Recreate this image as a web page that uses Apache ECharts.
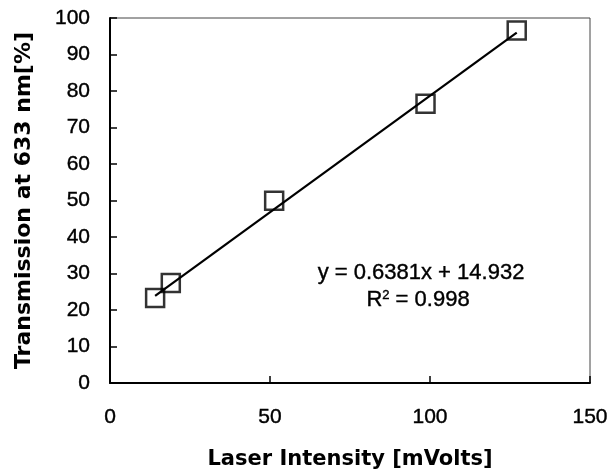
<!DOCTYPE html>
<html>
<head>
<meta charset="utf-8">
<script src="https://cdn.jsdelivr.net/npm/echarts@6/dist/echarts.min.js"></script>
<style>html,body{margin:0;padding:0;background:#fff;}#c{width:613px;height:476px;}</style>
</head>
<body>
<div id="c"></div>
<script>
// Data
var xValues = [14.1, 19.0, 51.3, 98.6, 127.1];
var yValues = [23.3, 27.4, 49.9, 76.5, 96.6];
// Trendline endpoints (as drawn in the picture)
var trendX = [14.1, 127.1];
var trendY = [23.9, 96.0];
var equationText = 'y = 0.6381x + 14.932';
var r2Text = 'R{sup|2} = 0.998';

var FONT = '"Liberation Sans", Arial, sans-serif';
var TITLE_FONT = '"DejaVu Sans", sans-serif';
var chart = echarts.init(document.getElementById('c'), null, {renderer: 'canvas'});
var pts = xValues.map(function (x, i) { return [x, yValues[i]]; });
var trend = trendX.map(function (x, i) { return [x, trendY[i]]; });

var labelStyle = {fontFamily: FONT, fontSize: 21, color: '#000', textBorderColor: '#000', textBorderWidth: 0.4};

chart.setOption({
  animation: false,
  backgroundColor: '#fff',
  grid: {left: 110, right: 23, top: 18, bottom: 93, show: true, borderColor: '#444', borderWidth: 1},
  xAxis: {
    type: 'value', min: 0, max: 150, interval: 50,
    name: 'Laser Intensity [mVolts]', nameLocation: 'middle', nameGap: 66,
    nameTextStyle: {fontFamily: TITLE_FONT, fontSize: 21, fontWeight: 'bold', color: '#000'},
    axisLine: {show: true, onZero: false, lineStyle: {color: '#000', width: 2}},
    axisTick: {show: true, inside: true, length: 7, lineStyle: {color: '#000', width: 1.5}},
    axisLabel: Object.assign({margin: 24}, labelStyle),
    splitLine: {show: false}
  },
  yAxis: {
    type: 'value', min: 0, max: 100, interval: 10,
    name: 'Transmission at 633 nm[%]', nameLocation: 'middle', nameGap: 75,
    nameTextStyle: {fontFamily: TITLE_FONT, fontSize: 22, fontWeight: 'bold', color: '#000'},
    axisLine: {show: true, onZero: false, lineStyle: {color: '#000', width: 2}},
    axisTick: {show: true, inside: true, length: 7, lineStyle: {color: '#000', width: 1.5}},
    axisLabel: Object.assign({margin: 20}, labelStyle),
    splitLine: {show: false}
  },
  series: [
    {
      type: 'line', data: trend, symbol: 'none', silent: true,
      lineStyle: {color: '#000', width: 2.2}, z: 2
    },
    {
      type: 'scatter', data: pts, symbol: 'rect', symbolSize: 18,
      itemStyle: {color: 'rgba(0,0,0,0)', borderColor: '#000', borderWidth: 2.5}, z: 3
    }
  ],
  graphic: [
    {
      type: 'text', x: 421, y: 273,
      style: {text: equationText, fontFamily: FONT, fontSize: 22, fill: '#000', stroke: '#000', lineWidth: 0.4, align: 'center', verticalAlign: 'middle'}
    },
    {
      type: 'text', x: 418, y: 300,
      style: {
        text: r2Text, fontFamily: FONT, fontSize: 22, fill: '#000', stroke: '#000', lineWidth: 0.4, align: 'center', verticalAlign: 'middle',
        rich: {sup: {fontFamily: FONT, fontSize: 13, verticalAlign: 'top', padding: [0, 0, 10, 0], fill: '#000'}}
      }
    }
  ]
});
</script>
</body>
</html>
